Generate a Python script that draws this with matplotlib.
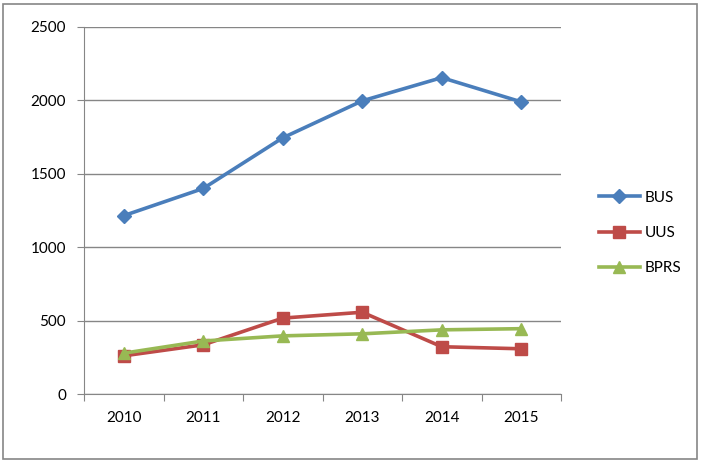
import matplotlib
matplotlib.use("Agg")
import matplotlib.pyplot as plt
from matplotlib.patches import Rectangle

years = ["2010", "2011", "2012", "2013", "2014", "2015"]
bus = [1215, 1400, 1745, 1997, 2155, 1990]
uus = [260, 335, 517, 557, 322, 308]
bprs = [278, 361, 396, 410, 437, 445]
series_names = ["BUS", "UUS", "BPRS"]
yticks = [0, 500, 1000, 1500, 2000, 2500]

plt.rcParams['font.family'] = ['Lato', 'DejaVu Sans']

fig = plt.figure(figsize=(7.01, 4.62), dpi=100)
ax = fig.add_axes([84/701, 1 - 394/462, (561-84)/701, (394-27)/462])

grid_c = "#868686"
x = list(range(len(years)))
ax.plot(x, bus, color="#4A7EBB", lw=2.6, marker="D", ms=7, label=series_names[0], zorder=3)
ax.plot(x, uus, color="#BE4B48", lw=2.6, marker="s", ms=8, label=series_names[1], zorder=3)
ax.plot(x, bprs, color="#98B954", lw=2.6, marker="^", ms=9, label=series_names[2], zorder=4)

ax.set_xlim(-0.5, len(years) - 0.5)
ax.set_ylim(0, 2500)
ax.set_yticks(yticks)
ax.set_yticklabels([str(v) for v in yticks], fontsize=11)
ax.yaxis.grid(True, color=grid_c, lw=1)
ax.set_axisbelow(True)

ax.set_xticks([i + 0.5 for i in range(-1, len(years))])
ax.set_xticklabels([""] * (len(years) + 1))
ax.set_xticks(x, minor=True)
ax.set_xticklabels(years, minor=True, fontsize=11)
ax.tick_params(axis="x", which="major", length=5, color=grid_c, direction="out")
ax.tick_params(axis="x", which="minor", length=0, pad=12)
ax.tick_params(axis="y", length=5, color=grid_c, direction="out", pad=8)

for s in ["top", "right"]:
    ax.spines[s].set_visible(False)
for s in ["left", "bottom"]:
    ax.spines[s].set_color(grid_c)

leg = ax.legend(loc="center left", bbox_to_anchor=(585/701, 1 - 233/462), bbox_transform=fig.transFigure,
                frameon=False, fontsize=11, handlelength=2.7, labelspacing=1.4, handletextpad=0.3)

fig.patches.append(Rectangle((3/701, 3/462), 694/701, 455/462, transform=fig.transFigure,
                             fill=False, edgecolor=grid_c, lw=1.2))

fig.savefig("out.png", dpi=100)
